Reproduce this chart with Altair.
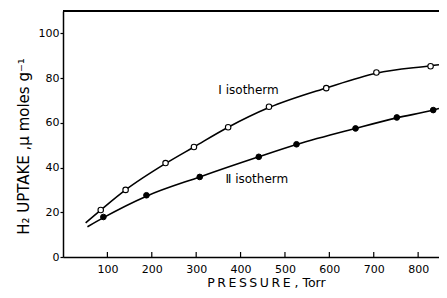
import altair as alt
import pandas as pd

# Measured points
iso1_p = [85, 141, 231, 295, 372, 464, 593, 706, 828]
iso1_u = [21.0, 30.0, 42.0, 49.2, 58.0, 67.2, 75.5, 82.5, 85.3]
iso2_p = [91, 188, 308, 441, 526, 659, 752, 834]
iso2_u = [17.9, 27.6, 35.8, 44.8, 50.4, 57.5, 62.4, 65.7]

# Smooth fitted curves
curve1_p = [51, 85, 141, 231, 295, 372, 464, 593, 706, 828, 847]
curve1_u = [15.3, 21.0, 30.0, 41.8, 49.2, 58.0, 66.8, 75.6, 82.2, 85.5, 86.0]
curve2_p = [55, 91, 188, 308, 441, 526, 659, 752, 834, 847]
curve2_u = [13.5, 17.6, 27.2, 35.8, 44.8, 50.3, 57.5, 62.2, 65.7, 66.4]

label_text = ["Ⅰ isotherm", "Ⅱ isotherm"]
label_p = [350, 366]
label_u = [74.5, 35.1]

x_ticks = [100, 200, 300, 400, 500, 600, 700, 800]
y_ticks = [0, 20, 40, 60, 80, 100]

W, H = 376, 246
FONT = "DejaVu Sans"

xs = alt.Scale(domain=[0, 847], nice=False, zero=False)
ys = alt.Scale(domain=[0, 110], nice=False)

x_axis = alt.Axis(values=x_ticks, ticks=False, grid=False, labelFont=FONT, labelFontSize=11,
                  labelColor="black", labelPadding=6, domainColor="black", domainWidth=1.5,
                  title="P\u2009R\u2009E\u2009S\u2009S\u2009U\u2009R\u2009E , Torr",
                  titleFont=FONT, titleFontSize=12.5, titleFontWeight="normal", titleColor="black",
                  titleX=203, titleY=25.5, titleAlign="center", titleBaseline="middle")
y_axis = alt.Axis(values=y_ticks, grid=False, tickSize=3, tickColor="black", tickWidth=1.2,
                  labelFont=FONT, labelFontSize=11, labelColor="black", labelPadding=1,
                  domainColor="black", domainWidth=1.5,
                  title="H₂ UPTAKE ,µ moles g⁻¹", titleFont=FONT, titleFontSize=15,
                  titleFontWeight="normal", titleColor="black", titleAngle=270,
                  titleX=-40, titleY=135, titleAlign="center", titleBaseline="middle")

c1 = pd.DataFrame({"p": curve1_p, "u": curve1_u})
c2 = pd.DataFrame({"p": curve2_p, "u": curve2_u})
d1 = pd.DataFrame({"p": iso1_p, "u": iso1_u})
d2 = pd.DataFrame({"p": iso2_p, "u": iso2_u})
lab = pd.DataFrame({"p": label_p, "u": label_u, "t": label_text})
tk = pd.DataFrame({"p": x_ticks})

base_line = alt.Chart(c1).mark_line(color="black", strokeWidth=1.6, interpolate="monotone").encode(
    x=alt.X("p:Q", scale=xs, axis=x_axis), y=alt.Y("u:Q", scale=ys, axis=y_axis))
line2 = alt.Chart(c2).mark_line(color="black", strokeWidth=1.6, interpolate="monotone").encode(
    x=alt.X("p:Q", scale=xs), y=alt.Y("u:Q", scale=ys))
pts1 = alt.Chart(d1).mark_point(shape="circle", filled=True, fill="white", stroke="black",
                                strokeWidth=1.1, size=30, opacity=1).encode(
    x=alt.X("p:Q", scale=xs), y=alt.Y("u:Q", scale=ys))
pts2 = alt.Chart(d2).mark_point(shape="circle", filled=True, fill="black", stroke="black",
                                strokeWidth=1, size=32, opacity=1).encode(
    x=alt.X("p:Q", scale=xs), y=alt.Y("u:Q", scale=ys))
labels = alt.Chart(lab).mark_text(font=FONT, fontSize=12, color="black", align="left",
                                  baseline="middle").encode(
    x=alt.X("p:Q", scale=xs), y=alt.Y("u:Q", scale=ys), text="t:N")
ticks = alt.Chart(tk).mark_rule(color="black", strokeWidth=1.2).encode(
    x=alt.X("p:Q", scale=xs), y=alt.value(H), y2=alt.value(H - 5))
top = alt.Chart(tk).mark_rule(color="black", strokeWidth=1.2).encode(
    x=alt.value(0), x2=alt.value(W), y=alt.value(0))

chart = alt.layer(base_line, line2, pts1, pts2, labels, ticks, top).properties(
    width=W, height=H,
    autosize=alt.AutoSizeParams(type="none"),
    padding={"left": 55, "top": 3, "right": 0, "bottom": 33},
    background="white",
).configure_view(stroke=None)

chart.save("out.html", embed_options={"renderer": "svg", "actions": False})
